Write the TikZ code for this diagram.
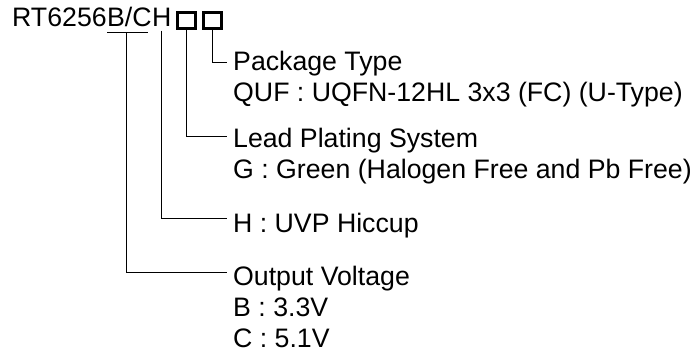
\documentclass[tikz,border=0pt]{standalone}
\usepackage{fontspec}
\setmainfont{Liberation Sans}
\begin{document}
\begin{tikzpicture}[x=1pt,y=-1pt,
  txt/.style={anchor=base west,inner sep=0pt,font=\fontsize{26.7}{31}\selectfont},
  conn/.style={line width=1pt,black},
  pbox/.style={draw,line width=3pt,minimum width=18pt,minimum height=16pt,inner sep=0pt}]
\useasboundingbox (0,0) rectangle (693,356);
% title
\node[txt] (rt) at (12,27) {RT6256};
\node[txt] (bc) at (rt.base east) {B/C};
\node[txt] (h) at (bc.base east) {H};
\node[pbox] (b1) at (186,20) {};
\node[pbox] (b2) at (212.5,20) {};
\coordinate (ul1) at (107,32.3);
\coordinate (ul2) at (147.5,32.3);
\draw[conn] (ul1) -- (ul2);
\coordinate (ulc) at (126,32.3);
\coordinate (hb) at (161,30.5);
% descriptions
\node[txt] (pkg) at (233,70) {Package Type};
\node[txt] (quf) at (233,101) {QUF : UQFN-12HL 3x3 (FC) (U-Type)};
\node[txt] (lead) at (233,147) {Lead Plating System};
\node[txt] (grn) at (233,178) {G : Green (Halogen Free and Pb Free)};
\node[txt] (uvp) at (233,232) {H : UVP Hiccup};
\node[txt] (out) at (233,285) {Output Voltage};
\node[txt] (bv) at (233,316) {B : 3.3V};
\node[txt] (cv) at (233,347) {C : 5.1V};
% connectors
\draw[conn] (b2.south) |- ([xshift=-6pt,yshift=8pt]pkg.base west);
\draw[conn] (b1.south) |- ([xshift=-6pt,yshift=11pt]lead.base west);
\draw[conn] (hb) |- ([xshift=-6pt,yshift=14pt]uvp.base west);
\draw[conn] (ulc) |- ([xshift=-6pt,yshift=13pt]out.base west);
\end{tikzpicture}
\end{document}
